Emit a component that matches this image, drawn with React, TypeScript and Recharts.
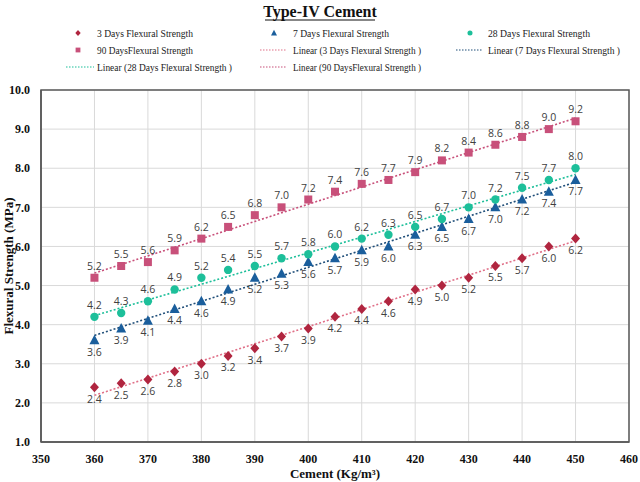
import React from 'react';
import { ComposedChart, Line, XAxis, YAxis, CartesianGrid, LabelList, ReferenceArea } from 'recharts';

const cement = [360, 365, 370, 375, 380, 385, 390, 395, 400, 405, 410, 415, 420, 425, 430, 435, 440, 445, 450];
const days3 = [2.4, 2.5, 2.6, 2.8, 3.0, 3.2, 3.4, 3.7, 3.9, 4.2, 4.4, 4.6, 4.9, 5.0, 5.2, 5.5, 5.7, 6.0, 6.2];
const days7 = [3.6, 3.9, 4.1, 4.4, 4.6, 4.9, 5.2, 5.3, 5.6, 5.7, 5.9, 6.0, 6.3, 6.5, 6.7, 7.0, 7.2, 7.4, 7.7];
const days28 = [4.2, 4.3, 4.6, 4.9, 5.2, 5.4, 5.5, 5.7, 5.8, 6.0, 6.2, 6.3, 6.5, 6.7, 7.0, 7.2, 7.5, 7.7, 8.0];
const days90 = [5.2, 5.5, 5.6, 5.9, 6.2, 6.5, 6.8, 7.0, 7.2, 7.4, 7.6, 7.7, 7.9, 8.2, 8.4, 8.6, 8.8, 9.0, 9.2];
const xTicks = [350, 360, 370, 380, 390, 400, 410, 420, 430, 440, 450, 460];
const yTicks = [1, 2, 3, 4, 5, 6, 7, 8, 9, 10];

const C3 = '#B0253F';
const C3T = '#E07088';
const C7 = '#1A5E9C';
const C7T = '#1F4E79';
const C28 = '#1DBF9A';
const C90 = '#C8507A';

// least squares fit, like Excel's linear trendline
const fit = (ys: number[]) => {
  const n = cement.length;
  const mx = cement.reduce((a, b) => a + b, 0) / n;
  const my = ys.reduce((a, b) => a + b, 0) / n;
  let sxy = 0, sxx = 0;
  cement.forEach((x, i) => { sxy += (x - mx) * (ys[i] - my); sxx += (x - mx) * (x - mx); });
  const b = sxy / sxx;
  return (x: number) => my + b * (x - mx);
};
const f3 = fit(days3), f7 = fit(days7), f28 = fit(days28), f90 = fit(days90);

const data = cement.map((x, i) => ({
  x,
  d3: days3[i], d7: days7[i], d28: days28[i], d90: days90[i],
  t3: f3(x), t7: f7(x), t28: f28(x), t90: f90(x),
}));

const Diamond = ({ cx, cy, fill, s = 1 }: any) => (
  <path d={`M${cx},${cy - 5 * s}L${cx + 4.5 * s},${cy}L${cx},${cy + 5 * s}L${cx - 4.5 * s},${cy}Z`} fill={fill} />
);
const Tri = ({ cx, cy, fill, s = 1 }: any) => (
  <path d={`M${cx},${cy - 5.5 * s}L${cx + 5 * s},${cy + 4 * s}L${cx - 5 * s},${cy + 4 * s}Z`} fill={fill} />
);
const Sq = ({ cx, cy, fill, s = 1 }: any) => <rect x={cx - 4 * s} y={cy - 4 * s} width={8 * s} height={8 * s} fill={fill} />;
const Dot = ({ cx, cy, fill, s = 1 }: any) => <circle cx={cx} cy={cy} r={4.2 * s} fill={fill} />;

const mk = (Shape: any, fill: string) => (p: any) => <Shape key={p.key ?? `${p.index}`} cx={p.cx} cy={p.cy} fill={fill} />;

const fmt = (v: any) => Number(v).toFixed(1);
const labelStyle = { fontSize: 10.5, fill: '#404040', fontFamily: '"Open Sans", sans-serif' };
const tickStyle = { fontSize: 12, fill: '#111', fontWeight: 'bold', fontFamily: '"Liberation Serif", serif' };

const legendFont = { fontSize: 11, fill: '#222', fontFamily: '"Liberation Serif", serif' };

const Legend = () => (
  <svg width={640} height={90} style={{ position: 'absolute', left: 0, top: 0 }}>
    <text x={320} y={17} textAnchor="middle" fontSize={16} fontWeight="bold" fontFamily='"Liberation Serif", serif' fill="#111">
      Type-IV  Cement
    </text>
    <line x1={265} y1={20} x2={375} y2={20} stroke="#111" strokeWidth={1.2} />
    <Diamond cx={78} cy={33} fill={C3} s={0.6} />
    <text x={97} y={37} {...legendFont} textLength={96} lengthAdjust="spacingAndGlyphs">3 Days Flexural Strength</text>
    <Tri cx={274} cy={33} fill={C7} s={0.6} />
    <text x={293} y={37} {...legendFont} textLength={96} lengthAdjust="spacingAndGlyphs">7 Days Flexural Strength</text>
    <Dot cx={470} cy={33} fill={C28} s={0.6} />
    <text x={488} y={37} {...legendFont} textLength={102} lengthAdjust="spacingAndGlyphs">28 Days Flexural Strength</text>
    <Sq cx={78} cy={50} fill={C90} s={0.6} />
    <text x={97} y={54} {...legendFont} textLength={96} lengthAdjust="spacingAndGlyphs">90 DaysFlexural Strength</text>
    <line x1={260} y1={50} x2={287} y2={50} stroke={C3T} strokeWidth={1.2} strokeDasharray="1.5 1.5" />
    <text x={293} y={54} {...legendFont} textLength={128} lengthAdjust="spacingAndGlyphs">Linear (3 Days Flexural Strength )</text>
    <line x1={456} y1={50} x2={483} y2={50} stroke={C7T} strokeWidth={1.2} strokeDasharray="1.5 1.5" />
    <text x={488} y={54} {...legendFont} textLength={132} lengthAdjust="spacingAndGlyphs">Linear (7 Days Flexural Strength )</text>
    <line x1={66} y1={67} x2={94} y2={67} stroke={C28} strokeWidth={1.2} strokeDasharray="1.5 1.5" />
    <text x={97} y={71} {...legendFont} textLength={135} lengthAdjust="spacingAndGlyphs">Linear (28 Days Flexural Strength )</text>
    <line x1={260} y1={67} x2={287} y2={67} stroke={C90} strokeWidth={1.2} strokeDasharray="1.5 1.5" />
    <text x={293} y={71} {...legendFont} textLength={128} lengthAdjust="spacingAndGlyphs">Linear (90 DaysFlexural Strength )</text>
  </svg>
);

const trend = (key: string, color: string) => (
  <Line dataKey={key} stroke={color} strokeWidth={1.6} strokeDasharray="2 2" dot={false} activeDot={false} isAnimationActive={false} />
);

const series = (key: string, shape: any, color: string, pos: 'top' | 'bottom') => (
  <Line dataKey={key} stroke="none" dot={mk(shape, color)} activeDot={false} isAnimationActive={false}>
    <LabelList dataKey={key} position={pos} offset={8} formatter={fmt} style={labelStyle} />
  </Line>
);

export default function App() {
  return (
    <div style={{ position: 'absolute', left: 0, top: 0, width: 640, height: 482, background: '#fff' }}>
      <ComposedChart width={640} height={482} data={data} margin={{ top: 90, right: 11, left: 6, bottom: 20 }}>
        <CartesianGrid stroke="#D9D9D9" strokeWidth={1} />
        <XAxis
          type="number"
          dataKey="x"
          domain={[350, 460]}
          ticks={xTicks}
          tickLine={false}
          axisLine={{ stroke: '#595959', strokeWidth: 1.5 }}
          tick={tickStyle}
          tickMargin={6}
          height={20}
          label={{ value: 'Cement (Kg/m³)', position: 'insideBottom', offset: -16, style: { ...tickStyle, fontSize: 13 } }}
        />
        <YAxis
          type="number"
          domain={[1, 10]}
          ticks={yTicks}
          tickFormatter={fmt}
          tickLine={false}
          axisLine={{ stroke: '#595959', strokeWidth: 1.5 }}
          tick={tickStyle}
          tickMargin={5}
          width={35}
          label={{ value: 'Flexural Strength (MPa)', angle: -90, position: 'insideLeft', offset: 2, style: { ...tickStyle, fontSize: 13, textAnchor: 'middle' } }}
        />
        <ReferenceArea x1={350} x2={460} y1={1} y2={10} fill="none" stroke="#595959" strokeWidth={1.5} fillOpacity={0} />
        {trend('t3', C3T)}
        {trend('t7', C7T)}
        {trend('t28', C28)}
        {trend('t90', C90)}
        {series('d3', Diamond, C3, 'bottom')}
        {series('d7', Tri, C7, 'bottom')}
        {series('d28', Dot, C28, 'top')}
        {series('d90', Sq, C90, 'top')}
      </ComposedChart>
      <Legend />
    </div>
  );
}
